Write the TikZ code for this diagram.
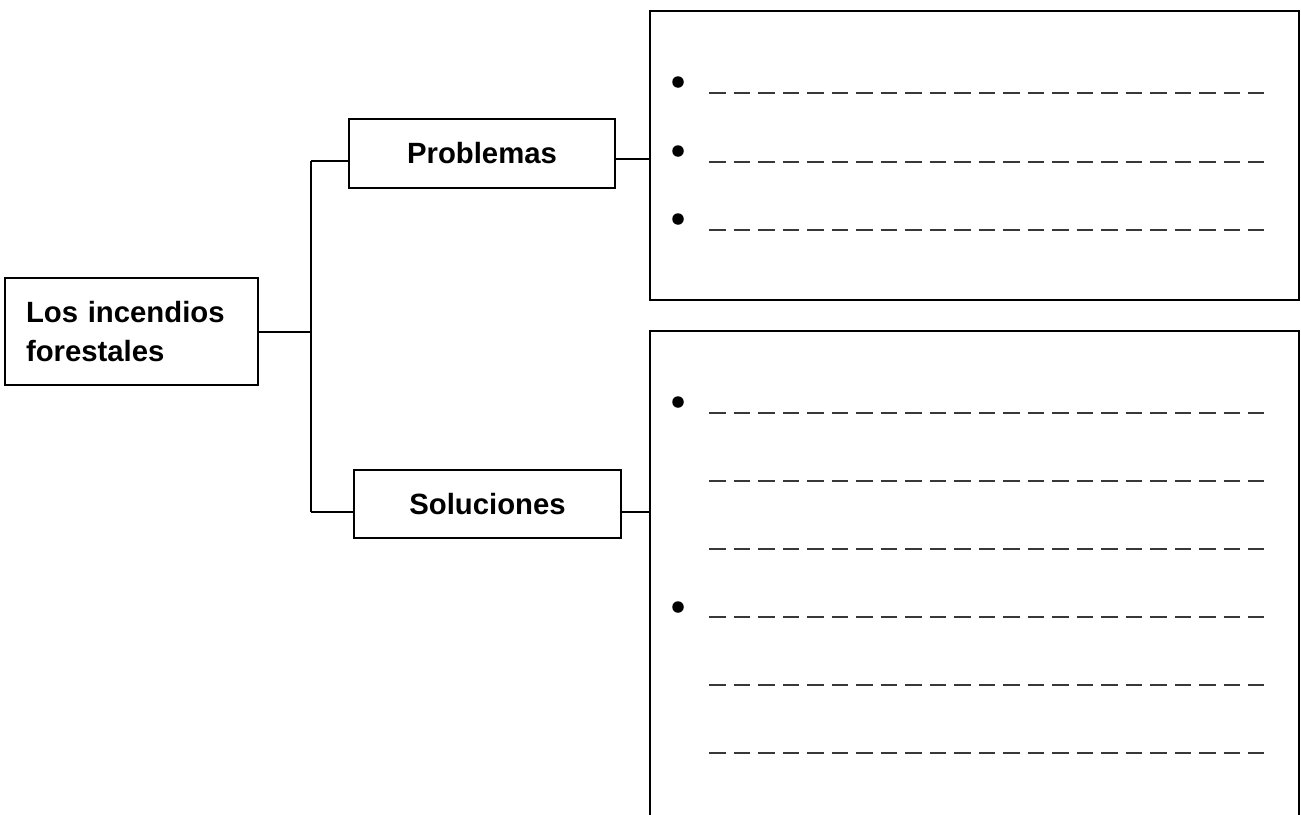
\documentclass[tikz,border=0pt]{standalone}
\usepackage{fontspec}
\setmainfont{Liberation Sans}
\begin{document}
\begin{tikzpicture}[x=1pt,y=-1pt,
  box/.style={draw=black, line width=1.3pt, fill=white, inner sep=0pt,
    font=\bfseries\fontsize{29.3}{39}\selectfont},
  conn/.style={draw=black, line width=2pt},
  frame/.style={draw=black, line width=1.5pt},
  blank/.style={draw=black!78, line width=2.4pt, dash pattern=on 16.5pt off 8pt},
  bul/.style={circle, fill=black, inner sep=0pt, minimum size=11.5pt}]
\useasboundingbox (0,0) rectangle (1301,814);

% main node
\node[box, minimum width=253pt, minimum height=107pt, text width=211pt, align=left]
  (main) at (131.5,331.5) {Los incendios\\forestales};
\node[box, minimum width=266pt, minimum height=69pt] (prob) at (482,153.5) {Problemas};
\node[box, minimum width=267pt, minimum height=68pt] (sol) at (487.5,504) {Soluciones};

% content frames
\node[frame, minimum width=649pt, minimum height=289pt, inner sep=0pt] (pbox) at (974.5,155.5) {};
\coordinate (sbl) at (650,820);
\coordinate (sbr) at (1299,820);
\coordinate (stl) at (650,331);
\coordinate (str) at (1299,331);
\draw[frame, line join=miter] (sbl) -- (stl) -- (str) -- (sbr);

% connectors
\coordinate (jtop) at (311,161);
\coordinate (jmid) at (311,332);
\coordinate (jbot) at (311,512);
\draw[conn] (jtop) -- (jbot);
\draw[conn] (main.east |- jmid) -- (jmid);
\draw[conn] (jtop) -- (jtop -| prob.west);
\draw[conn] (jbot) -- (jbot -| sol.west);
\coordinate (pr) at (615,159);
\draw[conn] (pr -| prob.east) -- (pr -| pbox.west);
\coordinate (sr) at (621,512);
\draw[conn] (sr -| sol.east) -- (sr -| stl);

% bullets and blank lines, problems
\foreach \y/\d in {82/93, 151/162, 219/230} {
  \node[bul] (pb\y) at (678,\y) {};
  \coordinate (pl\y) at (709,\d);
  \coordinate (pe\y) at (1264,\d);
  \draw[blank] (pl\y) -- (pe\y);
}
% solutions
\foreach \y in {402, 607} {
  \node[bul] (sb\y) at (678,\y) {};
}
\foreach \d in {413, 481, 549, 617, 685, 753} {
  \coordinate (sl\d) at (709,\d);
  \coordinate (se\d) at (1264,\d);
  \draw[blank] (sl\d) -- (se\d);
}
\end{tikzpicture}
\end{document}
